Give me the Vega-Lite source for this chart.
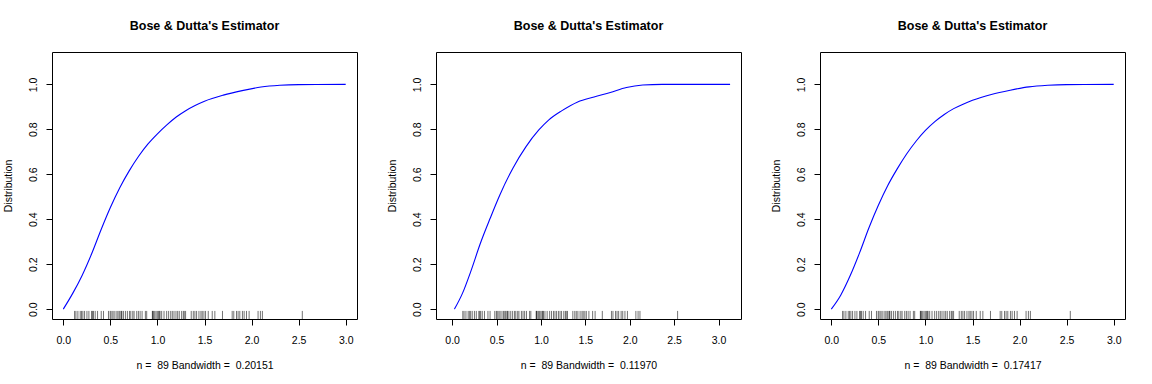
{
  "$schema": "https://vega.github.io/schema/vega-lite/v6.json",
  "background": "white",
  "padding": {"left": 3, "top": 19, "right": 5, "bottom": 5},
  "datasets": {
    "rug": [
      {"x": 0.12}, {"x": 0.134}, {"x": 0.155}, {"x": 0.18}, {"x": 0.194}, {"x": 0.208}, {"x": 0.226}, {"x": 0.251}, {"x": 0.272}, {"x": 0.30},
      {"x": 0.31}, {"x": 0.321}, {"x": 0.339}, {"x": 0.364}, {"x": 0.403}, {"x": 0.427}, {"x": 0.48}, {"x": 0.498}, {"x": 0.508}, {"x": 0.526},
      {"x": 0.54}, {"x": 0.561}, {"x": 0.579}, {"x": 0.593}, {"x": 0.604}, {"x": 0.621}, {"x": 0.62}, {"x": 0.639}, {"x": 0.66}, {"x": 0.681},
      {"x": 0.703}, {"x": 0.717}, {"x": 0.738}, {"x": 0.752}, {"x": 0.78}, {"x": 0.798}, {"x": 0.816}, {"x": 0.837}, {"x": 0.872}, {"x": 0.886},
      {"x": 0.946}, {"x": 0.95}, {"x": 0.957}, {"x": 0.971}, {"x": 0.985}, {"x": 0.999}, {"x": 1.013}, {"x": 1.02}, {"x": 1.028}, {"x": 1.045},
      {"x": 1.07}, {"x": 1.098}, {"x": 1.119}, {"x": 1.141}, {"x": 1.158}, {"x": 1.176}, {"x": 1.197}, {"x": 1.215}, {"x": 1.232}, {"x": 1.257},
      {"x": 1.275}, {"x": 1.285}, {"x": 1.299}, {"x": 1.359}, {"x": 1.381}, {"x": 1.398}, {"x": 1.416}, {"x": 1.441}, {"x": 1.462}, {"x": 1.476},
      {"x": 1.494}, {"x": 1.511}, {"x": 1.54}, {"x": 1.582}, {"x": 1.61}, {"x": 1.691}, {"x": 1.794}, {"x": 1.811}, {"x": 1.84}, {"x": 1.857},
      {"x": 1.875}, {"x": 1.903}, {"x": 1.921}, {"x": 1.946}, {"x": 1.974}, {"x": 2.069}, {"x": 2.094}, {"x": 2.115}, {"x": 2.539}
    ],
    "c1": [
      {"x": 0, "y": 0}, {"x": 0.1, "y": 0.07}, {"x": 0.2, "y": 0.15}, {"x": 0.3, "y": 0.245}, {"x": 0.4, "y": 0.352},
      {"x": 0.5, "y": 0.452}, {"x": 0.6, "y": 0.54}, {"x": 0.7, "y": 0.615}, {"x": 0.8, "y": 0.68}, {"x": 0.9, "y": 0.735},
      {"x": 1.0, "y": 0.78}, {"x": 1.1, "y": 0.82}, {"x": 1.2, "y": 0.855}, {"x": 1.3, "y": 0.883}, {"x": 1.4, "y": 0.906},
      {"x": 1.5, "y": 0.925}, {"x": 1.7, "y": 0.952}, {"x": 1.9, "y": 0.972}, {"x": 2.1, "y": 0.988}, {"x": 2.3, "y": 0.996},
      {"x": 2.5, "y": 0.999}, {"x": 3.0, "y": 1.0}
    ],
    "c2": [
      {"x": 0.026, "y": 0}, {"x": 0.117, "y": 0.071}, {"x": 0.209, "y": 0.167}, {"x": 0.318, "y": 0.293}, {"x": 0.428, "y": 0.404},
      {"x": 0.537, "y": 0.508}, {"x": 0.684, "y": 0.627}, {"x": 0.83, "y": 0.722}, {"x": 0.976, "y": 0.797}, {"x": 1.086, "y": 0.841},
      {"x": 1.232, "y": 0.882}, {"x": 1.414, "y": 0.922}, {"x": 1.598, "y": 0.944}, {"x": 1.781, "y": 0.964}, {"x": 1.963, "y": 0.986},
      {"x": 2.146, "y": 0.997}, {"x": 2.365, "y": 1.0}, {"x": 3.13, "y": 1.0}
    ],
    "c3": [
      {"x": 0, "y": 0}, {"x": 0.1, "y": 0.062}, {"x": 0.2, "y": 0.148}, {"x": 0.3, "y": 0.25}, {"x": 0.4, "y": 0.362},
      {"x": 0.5, "y": 0.462}, {"x": 0.6, "y": 0.55}, {"x": 0.7, "y": 0.624}, {"x": 0.8, "y": 0.69}, {"x": 0.9, "y": 0.747},
      {"x": 1.0, "y": 0.795}, {"x": 1.1, "y": 0.834}, {"x": 1.2, "y": 0.866}, {"x": 1.3, "y": 0.892}, {"x": 1.4, "y": 0.912},
      {"x": 1.5, "y": 0.929}, {"x": 1.7, "y": 0.955}, {"x": 1.9, "y": 0.974}, {"x": 2.1, "y": 0.989}, {"x": 2.3, "y": 0.996},
      {"x": 2.5, "y": 0.999}, {"x": 3.0, "y": 1.0}
    ]
  },
  "spacing": 79,
  "bounds": "flush",
  "hconcat": [
    {
      "width": 305, "height": 267,
      "title": "Bose & Dutta's Estimator",
      "layer": [
        {
          "data": {"name": "rug"},
          "mark": {"type": "rule", "color": "black", "strokeWidth": 1, "opacity": 0.55},
          "encoding": {
            "x": {"field": "x", "type": "quantitative", "scale": {"domain": [-0.12, 3.12], "nice": false, "zero": false},
                  "axis": {"title": "n =\u00a0 89 Bandwidth =\u00a0 0.20151", "values": [0, 0.5, 1, 1.5, 2, 2.5, 3], "format": ".1f", "labelBaseline": "alphabetic", "labelPadding": 18, "labelFlush": false, "titleBaseline": "alphabetic", "titleX": 152.5, "titleY": 49.3, "titleAlign": "center"}},
            "y": {"datum": -0.044, "type": "quantitative", "scale": {"domain": [-0.044, 1.144], "nice": false, "zero": false},
                  "axis": {"title": "Distribution", "values": [0, 0.2, 0.4, 0.6, 0.8, 1.0], "format": ".1f", "labelAngle": -90, "labelAlign": "center", "labelBaseline": "alphabetic", "labelPadding": 10, "titleAngle": -90, "titleBaseline": "alphabetic", "titleAlign": "center", "titleX": -40.3, "titleY": 133.5}},
            "y2": {"datum": -0.008}
          }
        },
        {
          "data": {"name": "c1"},
          "mark": {"type": "line", "color": "#0000FF", "strokeWidth": 1.1, "interpolate": "monotone"},
          "encoding": {
            "x": {"field": "x", "type": "quantitative"},
            "y": {"field": "y", "type": "quantitative"}
          }
        }
      ]
    },
    {
      "width": 305, "height": 267,
      "title": "Bose & Dutta's Estimator",
      "layer": [
        {
          "data": {"name": "rug"},
          "mark": {"type": "rule", "color": "black", "strokeWidth": 1, "opacity": 0.55},
          "encoding": {
            "x": {"field": "x", "type": "quantitative", "scale": {"domain": [-0.182, 3.253], "nice": false, "zero": false},
                  "axis": {"title": "n =\u00a0 89 Bandwidth =\u00a0 0.11970", "values": [0, 0.5, 1, 1.5, 2, 2.5, 3], "format": ".1f", "labelBaseline": "alphabetic", "labelPadding": 18, "labelFlush": false, "titleBaseline": "alphabetic", "titleX": 152.5, "titleY": 49.3, "titleAlign": "center"}},
            "y": {"datum": -0.044, "type": "quantitative", "scale": {"domain": [-0.044, 1.144], "nice": false, "zero": false},
                  "axis": {"title": "Distribution", "values": [0, 0.2, 0.4, 0.6, 0.8, 1.0], "format": ".1f", "labelAngle": -90, "labelAlign": "center", "labelBaseline": "alphabetic", "labelPadding": 10, "titleAngle": -90, "titleBaseline": "alphabetic", "titleAlign": "center", "titleX": -40.3, "titleY": 133.5}},
            "y2": {"datum": -0.008}
          }
        },
        {
          "data": {"name": "c2"},
          "mark": {"type": "line", "color": "#0000FF", "strokeWidth": 1.1, "interpolate": "monotone"},
          "encoding": {
            "x": {"field": "x", "type": "quantitative"},
            "y": {"field": "y", "type": "quantitative"}
          }
        }
      ]
    },
    {
      "width": 305, "height": 267,
      "title": "Bose & Dutta's Estimator",
      "layer": [
        {
          "data": {"name": "rug"},
          "mark": {"type": "rule", "color": "black", "strokeWidth": 1, "opacity": 0.55},
          "encoding": {
            "x": {"field": "x", "type": "quantitative", "scale": {"domain": [-0.12, 3.12], "nice": false, "zero": false},
                  "axis": {"title": "n =\u00a0 89 Bandwidth =\u00a0 0.17417", "values": [0, 0.5, 1, 1.5, 2, 2.5, 3], "format": ".1f", "labelBaseline": "alphabetic", "labelPadding": 18, "labelFlush": false, "titleBaseline": "alphabetic", "titleX": 152.5, "titleY": 49.3, "titleAlign": "center"}},
            "y": {"datum": -0.044, "type": "quantitative", "scale": {"domain": [-0.044, 1.144], "nice": false, "zero": false},
                  "axis": {"title": "Distribution", "values": [0, 0.2, 0.4, 0.6, 0.8, 1.0], "format": ".1f", "labelAngle": -90, "labelAlign": "center", "labelBaseline": "alphabetic", "labelPadding": 10, "titleAngle": -90, "titleBaseline": "alphabetic", "titleAlign": "center", "titleX": -40.3, "titleY": 133.5}},
            "y2": {"datum": -0.008}
          }
        },
        {
          "data": {"name": "c3"},
          "mark": {"type": "line", "color": "#0000FF", "strokeWidth": 1.1, "interpolate": "monotone"},
          "encoding": {
            "x": {"field": "x", "type": "quantitative"},
            "y": {"field": "y", "type": "quantitative"}
          }
        }
      ]
    }
  ],
  "config": {
    "font": "Liberation Sans",
    "view": {"stroke": "black", "strokeWidth": 1},
    "axis": {
      "grid": false, "domain": false, "ticks": true, "tickColor": "black", "tickSize": 6, "tickWidth": 1,
      "labelColor": "black", "labelFontSize": 10.5, "labelFont": "Liberation Sans", "labelOverlap": false,
      "titleColor": "black", "titleFontSize": 10.5, "titleFont": "Liberation Sans", "titleFontWeight": "normal"
    },
    "title": {"font": "Liberation Sans", "fontSize": 12.5, "fontWeight": "bold", "color": "black", "anchor": "middle", "frame": "group", "baseline": "alphabetic", "offset": 20}
  }
}
